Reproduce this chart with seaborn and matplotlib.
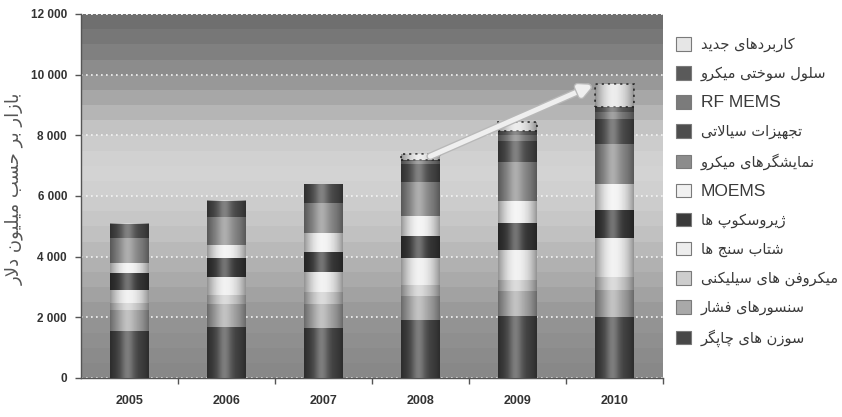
import numpy as np
import matplotlib
matplotlib.use("Agg")
import matplotlib.pyplot as plt
import seaborn as sns
from matplotlib.patches import Patch
import matplotlib.patheffects as pe

# ---------------------------------------------------------------- data
years = ["2005", "2006", "2007", "2008", "2009", "2010"]

# MEMS market by application, million USD (stack order: bottom -> top)
inkjet_nozzles      = [1550, 1690, 1650, 1900, 2050, 2000]
pressure_sensors    = [680, 750, 800, 800, 820, 900]
silicon_microphones = [250, 300, 390, 370, 370, 440]
accelerometers      = [430, 600, 660, 900, 990, 1290]
gyroscopes          = [560, 630, 660, 700, 890, 920]
moems               = [330, 430, 630, 660, 700, 830]
micro_displays      = [830, 920, 990, 1120, 1290, 1320]
microfluidics       = [450, 530, 600, 620, 690, 830]
rf_mems             = [0, 0, 0, 80, 200, 250]
micro_fuel_cells    = [0, 0, 0, 50, 130, 150]
new_applications    = [0, 0, 0, 170, 300, 760]

series_names = [
    "سوزن های چاپگر",
    "سنسورهای فشار",
    "میکروفن های سیلیکنی",
    "شتاب سنج ها",
    "ژیروسکوپ ها",
    "MOEMS",
    "نمایشگرهای میکرو",
    "تجهیزات سیالاتی",
    "RF MEMS",
    "سلول سوختی میکرو",
    "کاربردهای جدید",
]
series_values = [inkjet_nozzles, pressure_sensors, silicon_microphones,
                 accelerometers, gyroscopes, moems, micro_displays,
                 microfluidics, rf_mems, micro_fuel_cells, new_applications]
series_colors = ["#474747", "#a9a9a9", "#cdcdcd", "#ededed", "#3a3a3a",
                 "#f1f1f1", "#8c8c8c", "#4d4d4d", "#7b7b7b", "#5a5a5a",
                 "#e6e6e6"]

y_label = "بازار بر حسب میلیون دلار"
y_ticks = [0, 2000, 4000, 6000, 8000, 10000, 12000]
y_tick_labels = ["0", "2 000", "4 000", "6 000", "8 000", "10 000", "12 000"]

# ---------------------------------------------------- Persian shaping
# matplotlib lays glyphs left-to-right without contextual shaping, so the
# Persian strings are converted to presentation forms and reversed.
_FORMS = {
    "\u0627": ("\uFE8D", "\uFE8E", None, None),
    "\u0622": ("\uFE81", "\uFE82", None, None),
    "\u0628": ("\uFE8F", "\uFE90", "\uFE91", "\uFE92"),
    "\u067E": ("\uFB56", "\uFB57", "\uFB58", "\uFB59"),
    "\u062A": ("\uFE95", "\uFE96", "\uFE97", "\uFE98"),
    "\u062B": ("\uFE99", "\uFE9A", "\uFE9B", "\uFE9C"),
    "\u062C": ("\uFE9D", "\uFE9E", "\uFE9F", "\uFEA0"),
    "\u0686": ("\uFB7A", "\uFB7B", "\uFB7C", "\uFB7D"),
    "\u062D": ("\uFEA1", "\uFEA2", "\uFEA3", "\uFEA4"),
    "\u062E": ("\uFEA5", "\uFEA6", "\uFEA7", "\uFEA8"),
    "\u062F": ("\uFEA9", "\uFEAA", None, None),
    "\u0630": ("\uFEAB", "\uFEAC", None, None),
    "\u0631": ("\uFEAD", "\uFEAE", None, None),
    "\u0632": ("\uFEAF", "\uFEB0", None, None),
    "\u0698": ("\uFB8A", "\uFB8B", None, None),
    "\u0633": ("\uFEB1", "\uFEB2", "\uFEB3", "\uFEB4"),
    "\u0634": ("\uFEB5", "\uFEB6", "\uFEB7", "\uFEB8"),
    "\u0635": ("\uFEB9", "\uFEBA", "\uFEBB", "\uFEBC"),
    "\u0636": ("\uFEBD", "\uFEBE", "\uFEBF", "\uFEC0"),
    "\u0637": ("\uFEC1", "\uFEC2", "\uFEC3", "\uFEC4"),
    "\u0638": ("\uFEC5", "\uFEC6", "\uFEC7", "\uFEC8"),
    "\u0639": ("\uFEC9", "\uFECA", "\uFECB", "\uFECC"),
    "\u063A": ("\uFECD", "\uFECE", "\uFECF", "\uFED0"),
    "\u0641": ("\uFED1", "\uFED2", "\uFED3", "\uFED4"),
    "\u0642": ("\uFED5", "\uFED6", "\uFED7", "\uFED8"),
    "\u06A9": ("\uFB8E", "\uFB8F", "\uFB90", "\uFB91"),
    "\u06AF": ("\uFB92", "\uFB93", "\uFB94", "\uFB95"),
    "\u0644": ("\uFEDD", "\uFEDE", "\uFEDF", "\uFEE0"),
    "\u0645": ("\uFEE1", "\uFEE2", "\uFEE3", "\uFEE4"),
    "\u0646": ("\uFEE5", "\uFEE6", "\uFEE7", "\uFEE8"),
    "\u0648": ("\uFEED", "\uFEEE", None, None),
    "\u0647": ("\uFEE9", "\uFEEA", "\uFEEB", "\uFEEC"),
    "\u06CC": ("\uFBFC", "\uFBFD", "\uFBFE", "\uFBFF"),
    "\u0626": ("\uFE89", "\uFE8A", "\uFE8B", "\uFE8C"),
    "LA":     ("\uFEFB", "\uFEFC", None, None),
}


def rtl(text):
    if not any(ch in _FORMS for ch in text):
        return text
    units, i = [], 0
    while i < len(text):
        if text[i] == "\u0644" and i + 1 < len(text) and text[i + 1] == "\u0627":
            units.append("LA")
            i += 2
        else:
            units.append(text[i])
            i += 1
    out = []
    for k, u in enumerate(units):
        f = _FORMS.get(u)
        if f is None:
            out.append(u)
            continue
        prev = units[k - 1] if k > 0 else None
        nxt = units[k + 1] if k + 1 < len(units) else None
        join_prev = prev in _FORMS and _FORMS[prev][2] is not None
        join_next = nxt in _FORMS and f[2] is not None
        if join_prev and join_next:
            g = f[3]
        elif join_prev:
            g = f[1]
        elif join_next:
            g = f[2]
        else:
            g = f[0]
        out.append(g)
    return "".join(reversed(out))


# ---------------------------------------------------------------- figure
sns.set_style("white")
plt.rcParams["font.family"] = ["Liberation Sans", "DejaVu Sans"]

fig = plt.figure(figsize=(8.42, 4.17), dpi=100)
fig.patch.set_facecolor("white")
ax = fig.add_axes([81 / 842, 39 / 417, 582 / 842, 364 / 417])

# stacked bars
bottom = np.zeros(len(years))
for name, vals, color in zip(series_names, series_values, series_colors):
    is_new = name == series_names[-1]
    sns.barplot(x=years, y=vals, order=years, color=color, saturation=1,
                width=0.4, errorbar=None, bottom=bottom.copy(), ax=ax,
                linewidth=1.3 if is_new else 0,
                edgecolor="#3c3c3c" if is_new else color,
                linestyle=(0, (1.2, 2.2)) if is_new else "-",
                zorder=3)
    bottom += np.asarray(vals, dtype=float)
totals = bottom

for p in ax.patches:
    if p.get_height() == 0:
        p.set_visible(False)

# cylindrical shading over every column
first = ax.patches[:len(years)]
t = np.linspace(0, 1, 80)
dark = 0.38 * np.abs(2 * t - 1) ** 2.2
light = 0.30 * np.exp(-((t - 0.45) / 0.17) ** 2)
shade_dark = np.zeros((1, t.size, 4))
shade_dark[..., 3] = dark
shade_light = np.ones((1, t.size, 4))
shade_light[..., 3] = light
for p, top in zip(first, totals):
    x0, w = p.get_x(), p.get_width()
    for img in (shade_dark, shade_light):
        ax.imshow(img, extent=(x0, x0 + w, 0, top), aspect="auto",
                  interpolation="bilinear", zorder=3.5)

# banded grey backdrop
band_edges = np.linspace(0, 12000, 25)
band_mid = (band_edges[:-1] + band_edges[1:]) / 2
ctrl_y = [0, 1000, 2000, 3000, 4000, 5000, 6000, 7000, 8000, 9000, 10000, 11000, 12000]
ctrl_g = [0.53, 0.55, 0.59, 0.65, 0.71, 0.77, 0.81, 0.83, 0.79, 0.68, 0.57, 0.48, 0.42]
band_gray = np.interp(band_mid, ctrl_y, ctrl_g)
ax.imshow(band_gray[:, None], extent=(-0.5, 5.5, 0, 12000), origin="lower",
          cmap="gray", vmin=0, vmax=1, aspect="auto",
          interpolation="nearest", zorder=0)

ax.set_xlim(-0.5, 5.5)
ax.set_ylim(0, 12000)

# growth arrow from 2008 to 2010
p08, p10 = first[3], first[5]
ax.annotate("", xy=(p10.get_x() - 0.02, totals[5] - 30),
            xytext=(p08.get_x() + p08.get_width() * 0.75, totals[3] - 60),
            arrowprops=dict(arrowstyle="-|>", color="#efefef", lw=3.6,
                            mutation_scale=17, shrinkA=0, shrinkB=0,
                            path_effects=[pe.withStroke(linewidth=5.5, foreground="#b8b8b8")]),
            zorder=6)

# grid and axes
ax.set_axisbelow(True)
ax.yaxis.grid(True, linestyle=(0, (1, 2)), color="#f4f4f4", linewidth=1.2)
ax.xaxis.grid(False)
ax.axhline(12000, linestyle=(0, (1, 2)), color="#f4f4f4", linewidth=1.2, zorder=0.6)
for s in ("top", "right"):
    ax.spines[s].set_visible(False)
for s in ("left", "bottom"):
    ax.spines[s].set_color("#555555")
    ax.spines[s].set_linewidth(1.0)

ax.set_yticks(y_ticks)
ax.set_yticklabels(y_tick_labels)
ax.tick_params(axis="y", left=True, length=4, width=1, color="#555555",
               pad=6, labelsize=8.5, labelcolor="#333333")
for lab in ax.get_yticklabels():
    lab.set_fontweight("bold")

ax.set_xticks(range(len(years)))
ax.set_xticklabels(years)
ax.set_xticks(np.arange(0.5, len(years), 1), minor=True)
ax.tick_params(axis="x", which="major", bottom=False, length=0, pad=12,
               labelsize=9, labelcolor="#333333")
ax.tick_params(axis="x", which="minor", bottom=True, length=4, width=1,
               color="#555555")
for lab in ax.get_xticklabels():
    lab.set_fontweight("bold")
ax.set_xlabel("")
ax.set_ylabel("")

fig.text(14 / 842, 1 - 189 / 417, rtl(y_label), rotation=90, ha="center",
         va="center", fontsize=13, color="#555555",
         family=["DejaVu Sans"])

# legend, newest category first
handles = [Patch(facecolor=c, edgecolor="#7a7a7a", linewidth=0.8)
           for c in series_colors][::-1]
labels = [rtl(n) for n in series_names][::-1]
leg = ax.legend(handles, labels, loc="upper left",
                bbox_to_anchor=(676 / 842, 1 - 37 / 417),
                bbox_transform=fig.transFigure, frameon=False,
                borderpad=0, borderaxespad=0, handlelength=1.05,
                handleheight=1.05, handletextpad=0.65, labelspacing=0.95,
                prop={"size": 10.5, "family": ["DejaVu Sans"]})
for txt in leg.get_texts():
    txt.set_color("#3a3a3a")
    if txt.get_text().isascii():
        txt.set_fontfamily(["Liberation Sans"])
        txt.set_fontsize(12.5)

fig.savefig("out.png", dpi=100, facecolor="white")
